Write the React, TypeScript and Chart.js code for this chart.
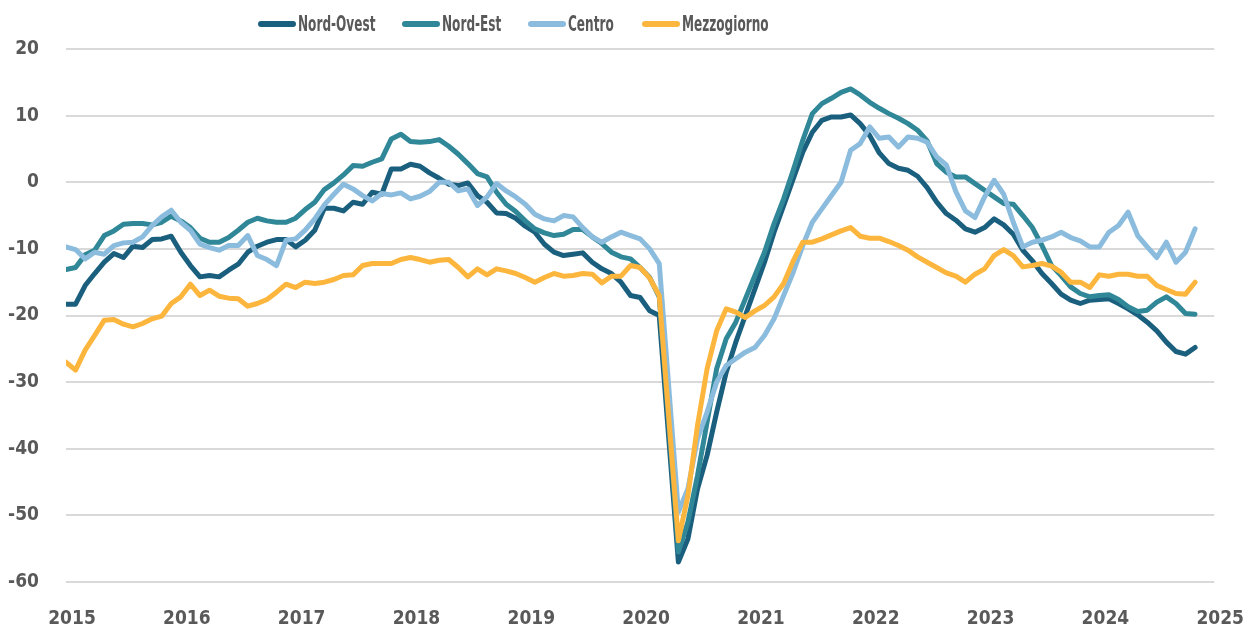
import React, { useEffect, useRef } from "react";
import { Chart, registerables } from "chart.js";

Chart.register(...registerables);

// Monthly data, Jan 2015 - Nov 2024 (April 2020 not available)
const yearLabels = ["2015", "2016", "2017", "2018", "2019", "2020", "2021", "2022", "2023", "2024", "2025"];

const nordOvest: (number | null)[] = [
  -18.3, -18.3, -15.5, -13.7, -12, -10.7, -11.3, -9.6, -9.8, -8.6, -8.5, -8.1,
  -10.5, -12.5, -14.2, -14, -14.2, -13.2, -12.3, -10.5, -9.6, -9, -8.6, -8.6,
  -9.7, -8.7, -7.2, -3.9, -3.9, -4.3, -3, -3.3, -1.5, -1.8, 2.0, 2.0,
  2.7, 2.4, 1.4, 0.6, -0.3, -0.5, -0.1, -2, -3, -4.6, -4.7, -5.4,
  -6.6, -7.5, -9.3, -10.5, -11, -10.8, -10.6, -12, -13, -13.7, -15, -17,
  -17.3, -19.3, -20, null, -57, -53.5, -46, -41, -34.5, -28.5, -24, -20,
  -16, -12, -7.5, -3.5, 0.5, 4.5, 7.5, 9.3, 9.8, 9.8, 10.1, 8.8,
  7, 4.4, 2.8, 2.1, 1.8, 0.9, -0.8, -3, -4.7, -5.7, -7, -7.5,
  -6.8, -5.5, -6.4, -7.8, -10.2, -11.8, -13.7, -15.2, -16.8, -17.7, -18.2, -17.7,
  -17.6, -17.5, -18.2, -19, -19.9, -21, -22.3, -24, -25.4, -25.8, -24.8,
];

const nordEst: (number | null)[] = [
  -13.1, -12.8, -10.9, -10.2, -8, -7.3, -6.3, -6.2, -6.2, -6.4, -6, -5.1,
  -5.8, -6.8, -8.4, -9, -9, -8.3, -7.2, -6, -5.4, -5.8, -6, -6,
  -5.4, -4.1, -3, -1.1, -0.1, 1.1, 2.5, 2.4, 3.0, 3.5, 6.5, 7.2,
  6.1, 6, 6.1, 6.4, 5.4, 4.2, 2.8, 1.3, 0.8, -1.5, -3.3, -4.4,
  -5.8, -7, -7.6, -8, -7.8, -7.1, -7.1, -8.2, -9.2, -10.5, -11.2, -11.5,
  -12.8, -14.3, -17.2, null, -55.5, -51, -44, -36, -28, -23.5, -21, -17.5,
  -14, -10.5, -6.2, -2.5, 1.8, 6.3, 10.3, 11.8, 12.6, 13.5, 14, 13.1,
  12, 11.1, 10.3, 9.6, 8.8, 7.8, 6.2, 2.8, 1.5, 0.8, 0.8, -0.2,
  -1.2, -2.2, -3.2, -3.3, -5, -6.8, -9.5, -12.5, -14, -15.7, -16.7, -17.2,
  -17, -16.9, -17.6, -18.7, -19.4, -19.2, -18, -17.2, -18.2, -19.7, -19.8,
];

const centro: (number | null)[] = [
  -9.7, -10.1, -11.5, -10.5, -10.8, -9.5, -9.1, -9, -8.2, -6.5, -5.2, -4.2,
  -6, -7.2, -9.3, -9.8, -10.2, -9.5, -9.5, -8, -11, -11.6, -12.5, -8.7,
  -8.5, -7.2, -5.5, -3.4, -1.8, -0.3, -1, -2, -2.8, -1.7, -1.9, -1.6,
  -2.5, -2.1, -1.4, 0, 0, -1.3, -1, -3.5, -2.2, -0.2, -1.3, -2.2,
  -3.3, -4.8, -5.5, -5.8, -5, -5.2, -6.8, -8.2, -9, -8.2, -7.5, -8,
  -8.5, -10, -12.2, null, -49.5, -46, -38.5, -34.5, -30, -27.5, -26.5, -25.5,
  -24.8, -23, -20.5, -17, -13.5, -9.5, -6, -4, -2, 0, 4.8, 5.8,
  8.3, 6.6, 6.8, 5.3, 6.8, 6.6, 6, 3.8, 2.6, -1.4, -4.3, -5.3,
  -2.2, 0.3, -1.8, -6, -9.7, -9, -8.7, -8.2, -7.5, -8.3, -8.8, -9.7,
  -9.7, -7.5, -6.5, -4.5, -8, -9.7, -11.3, -9, -12, -10.5, -7,
];

const mezzogiorno: (number | null)[] = [
  -27, -28.2, -25.2, -23, -20.7, -20.6, -21.3, -21.7, -21.2, -20.5, -20.1, -18.2,
  -17.2, -15.3, -17, -16.2, -17.1, -17.4, -17.5, -18.6, -18.2, -17.6, -16.5, -15.3,
  -15.8, -15, -15.2, -15, -14.6, -14, -13.9, -12.5, -12.2, -12.2, -12.2, -11.6,
  -11.3, -11.6, -12, -11.7, -11.6, -12.8, -14.2, -13, -13.9, -13, -13.3, -13.7,
  -14.3, -15, -14.3, -13.7, -14.1, -14, -13.7, -13.8, -15.1, -14.1, -14.1, -12.5,
  -12.8, -14.4, -17, null, -53.8, -47, -36.5, -28, -22.3, -19, -19.5, -20.3,
  -19.3, -18.5, -17.2, -15.2, -11.8, -9, -9, -8.5, -7.9, -7.3, -6.8, -8.1,
  -8.4, -8.4, -8.9, -9.5, -10.2, -11.2, -12, -12.8, -13.6, -14.1, -15, -13.8,
  -13, -11, -10.1, -11, -12.7, -12.5, -12.2, -12.6, -13.5, -15, -15, -15.8,
  -13.9, -14.1, -13.8, -13.8, -14.1, -14.1, -15.5, -16.1, -16.7, -16.8, -15,
];

const seriesNames = ["Nord-Ovest", "Nord-Est", "Centro", "Mezzogiorno"];
const seriesColors = ["#1b5f7e", "#2f8797", "#8bbcdd", "#fdb63d"];
const seriesData = [nordOvest, nordEst, centro, mezzogiorno];

const FONT = '"DejaVu Sans Condensed", "Liberation Sans Narrow", "Arial Narrow", sans-serif';
const TEXT = "#595959";

export default function App() {
  const ref = useRef<HTMLCanvasElement>(null);

  useEffect(() => {
    if (!ref.current) return;
    const n = seriesData.length;
    const chart = new Chart(ref.current, {
      type: "line",
      data: {
        datasets: seriesData.map((arr, k) => ({
          label: seriesNames[k],
          data: arr.map((v, i) => ({ x: i, y: v })),
          borderColor: seriesColors[k],
          backgroundColor: seriesColors[k],
          borderWidth: 5,
          pointRadius: 0,
          pointHoverRadius: 0,
          tension: 0,
          spanGaps: true,
          borderCapStyle: "round",
          borderJoinStyle: "round",
          order: n - k,
        })),
      },
      options: {
        animation: false,
        responsive: false,
        maintainAspectRatio: false,
        devicePixelRatio: 1,
        layout: { padding: { top: 49, right: 24, left: 0, bottom: 0 } },
        plugins: {
          legend: { display: false },
          tooltip: { enabled: false },
        },
        scales: {
          x: {
            type: "linear",
            min: 0,
            max: (yearLabels.length - 1) * 12,
            grid: { display: false },
            border: { display: false },
            ticks: {
              stepSize: 12,
              autoSkip: false,
              maxRotation: 0,
              padding: 18,
              labelOffset: 6,
              color: TEXT,
              font: { family: FONT, size: 19, weight: "bold" },
              callback: (v: any) => yearLabels[Math.round(Number(v) / 12)] ?? "",
            },
            afterFit: (s: any) => {
              s.height = 42;
            },
          },
          y: {
            min: -60,
            max: 20,
            grid: { color: "#d9d9d9", lineWidth: 2, drawTicks: false },
            border: { display: false },
            ticks: {
              stepSize: 10,
              padding: 27,
              color: TEXT,
              font: { family: FONT, size: 19, weight: "bold" },
            },
            afterFit: (s: any) => {
              s.width = 66;
            },
          },
        },
      },
    } as any);
    return () => chart.destroy();
  }, []);

  const itemWidths = [144, 126, 114, 140];

  return (
    <div style={{ position: "fixed", left: 0, top: 0, width: 1256, height: 624, background: "#fff" }}>
      <canvas ref={ref} width={1256} height={624} style={{ display: "block" }} />
      <div
        style={{
          position: "absolute",
          left: 258,
          top: 12,
          display: "flex",
          alignItems: "center",
          height: 24,
        }}
      >
        {seriesNames.map((name, k) => (
          <div key={name} style={{ display: "flex", alignItems: "center", width: itemWidths[k] }}>
            <span
              style={{
                display: "inline-block",
                flex: "0 0 auto",
                width: 38,
                height: 6,
                borderRadius: 3,
                background: seriesColors[k],
                marginRight: 2,
              }}
            />
            <span
              style={{
                display: "inline-block",
                fontFamily: FONT,
                fontWeight: "bold",
                fontSize: 21,
                color: TEXT,
                lineHeight: "24px",
                whiteSpace: "nowrap",
                transform: "scaleX(0.64)",
                transformOrigin: "left center",
              }}
            >
              {name}
            </span>
          </div>
        ))}
      </div>
    </div>
  );
}
